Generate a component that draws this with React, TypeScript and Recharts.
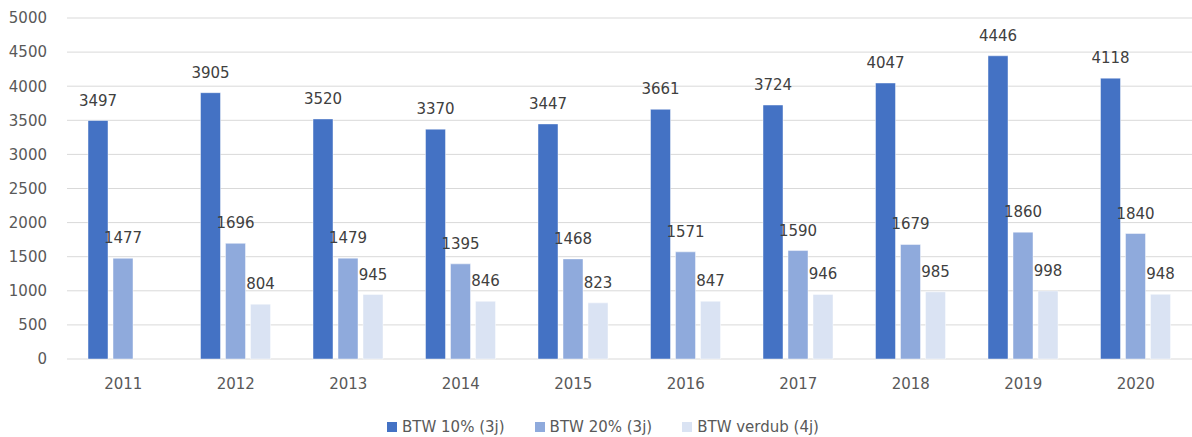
import { BarChart, Bar, XAxis, YAxis, CartesianGrid, Legend, LabelList } from "recharts";

const years = ["2011", "2012", "2013", "2014", "2015", "2016", "2017", "2018", "2019", "2020"];
const btw10 = [3497, 3905, 3520, 3370, 3447, 3661, 3724, 4047, 4446, 4118];
const btw20 = [1477, 1696, 1479, 1395, 1468, 1571, 1590, 1679, 1860, 1840];
const verdub = [null, 804, 945, 846, 823, 847, 946, 985, 998, 948];
const yTicks = [0, 500, 1000, 1500, 2000, 2500, 3000, 3500, 4000, 4500, 5000];

const SERIES = [
  { key: "btw10", name: "BTW 10% (3j)", color: "#4472C4" },
  { key: "btw20", name: "BTW 20% (3j)", color: "#8FAADC" },
  { key: "verdub", name: "BTW verdub (4j)", color: "#DAE3F3" },
];

const data = years.map((year, i) => ({
  year,
  btw10: btw10[i],
  btw20: btw20[i],
  verdub: verdub[i],
}));

const FONT = "'DejaVu Sans', sans-serif";

function LegendRow() {
  return (
    <div
      style={{
        display: "flex",
        justifyContent: "center",
        alignItems: "center",
        gap: 30,
        height: 20,
        fontFamily: FONT,
        fontSize: 15,
        color: "#595959",
        paddingLeft: 14,
      }}
    >
      {SERIES.map((s) => (
        <div key={s.key} style={{ display: "flex", alignItems: "center" }}>
          <span style={{ width: 10, height: 10, background: s.color, marginRight: 5, display: "inline-block" }} />
          <span>{s.name}</span>
        </div>
      ))}
    </div>
  );
}

export default function App() {
  return (
    <div style={{ position: "absolute", left: 0, top: 0, background: "#fff" }}>
      <BarChart
        width={1192}
        height={437}
        data={data}
        margin={{ top: 18, right: 0, left: 0, bottom: 0 }}
        barSize={20}
        barGap={5}
      >
        <CartesianGrid vertical={false} stroke="#D9D9D9" strokeWidth={1} />
        <XAxis
          dataKey="year"
          axisLine={false}
          tickLine={false}
          tickSize={0}
          tickMargin={19}
          height={58}
          tick={{ fill: "#595959", fontSize: 15, fontFamily: FONT }}
        />
        <YAxis
          domain={[0, 5000]}
          ticks={yTicks}
          interval={0}
          axisLine={false}
          tickLine={false}
          tickSize={0}
          tickMargin={20}
          width={67}
          tick={{ fill: "#595959", fontSize: 15, fontFamily: FONT }}
        />
        <Legend verticalAlign="bottom" content={() => <LegendRow />} />
        {SERIES.map((s) => (
          <Bar
            key={s.key}
            dataKey={s.key}
            name={s.name}
            fill={s.color}
            stroke="#ffffff"
            strokeOpacity={0.45}
            strokeWidth={1}
            isAnimationActive={false}
          >
            <LabelList
              dataKey={s.key}
              position="top"
              offset={15}
              fill="#404040"
              fontSize={15}
              fontFamily={FONT}
              formatter={(v: any) => (v == null ? "" : v)}
            />
          </Bar>
        ))}
      </BarChart>
    </div>
  );
}
